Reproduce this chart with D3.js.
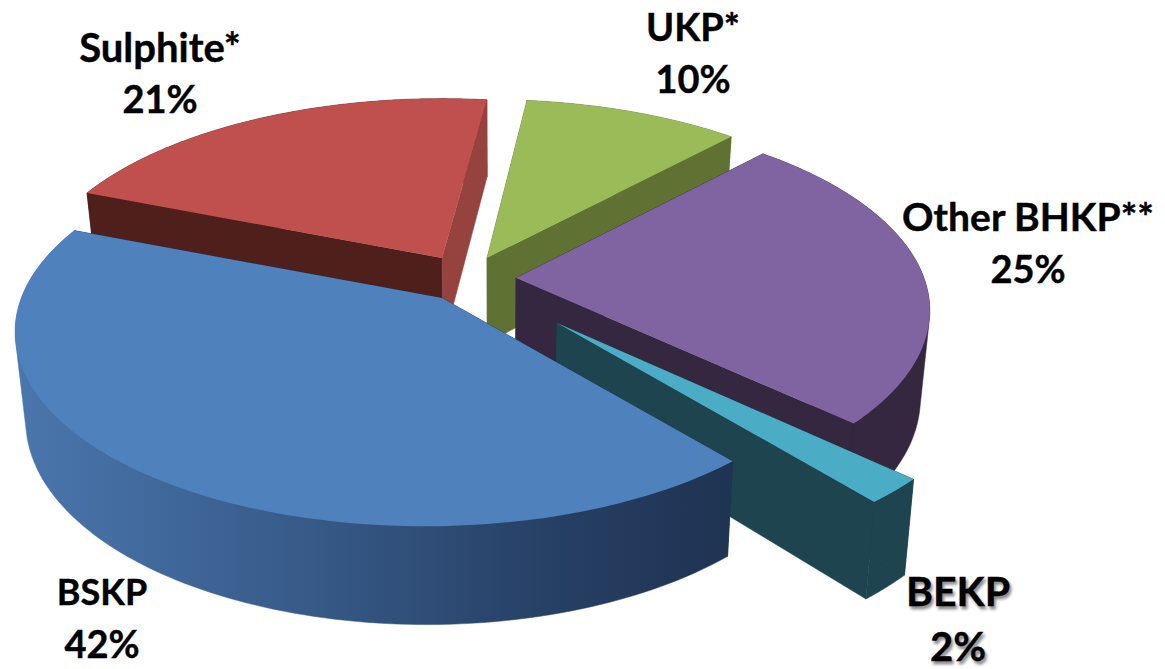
<!DOCTYPE html>
<html>
<head>
<meta charset="utf-8">
<title>Pulp grades</title>
<script src="https://cdn.jsdelivr.net/npm/d3@7"></script>
<style>
  html, body { margin: 0; padding: 0; background: #fff; }
  svg { display: block; }
  text { font-family: Lato, "Open Sans", sans-serif; font-weight: 700; fill: #000; stroke: #000; stroke-width: 0.4px; text-anchor: middle; }
</style>
</head>
<body>
<svg id="chart" width="1165" height="669"></svg>
<script>
// Pulp grade shares, listed clockwise starting from the Sulphite wedge.
const grades = ["Sulphite*", "UKP*", "Other BHKP**", "BEKP", "BSKP"];
const shares = [21, 10, 25, 2, 42];

// Drawing of each wedge: apex, radii, perspective lean, small rotation, face colours.
const wedgeStyle = {
  "Sulphite*":    { cx: 442, cy: 258, rx: 406, ry: 186, lean: 0,     turn: 0.4,  top: "#c0504d", rim: "#4f1f1c", near: "#4f1f1c", far: "#964340" },
  "UKP*":         { cx: 487, cy: 258, rx: 405, ry: 185, lean: 0,     turn: -0.4, top: "#9bbb59", rim: "#5f7233", near: "#5f7233", far: "#5f7233" },
  "Other BHKP**": { cx: 516, cy: 278, rx: 408, ry: 190, lean: 0,     turn: -0.2, top: "#8064a2", rim: "#35273f", near: "#35273f", far: "#35273f" },
  "BEKP":         { cx: 557, cy: 323, rx: 432, ry: 203, lean: 0,     turn: 0,    top: "#4bacc6", rim: "#1e4450", near: "#1e4450", far: "#1e4450" },
  "BSKP":         { cx: 442, cy: 298, rx: 406, ry: 190, lean: 0.035, turn: 0,    top: "#4f81bd", rim: "url(#blueRim)", near: "#1f3352", far: "#1f3352" }
};
const labelStyle = {
  "Sulphite*":    { x: 160,  y: 62,  gap: 51, size: 40, valueSize: 38 },
  "UKP*":         { x: 693,  y: 41,  gap: 52, size: 38, valueSize: 38 },
  "Other BHKP**": { x: 1028, y: 231, gap: 52, size: 39, valueSize: 38 },
  "BEKP":         { x: 958,  y: 606, gap: 55, size: 41, valueSize: 40, shadow: true },
  "BSKP":         { x: 102,  y: 605, gap: 53, size: 36, valueSize: 38 }
};

const depthPerspective = 0.167;
const firstAngle = (291.4 - 360) * Math.PI / 180;

const svg = d3.select("#chart");

const gradient = svg.append("defs").append("linearGradient")
  .attr("id", "blueRim")
  .attr("gradientUnits", "userSpaceOnUse")
  .attr("x1", 20).attr("x2", 735).attr("y1", 0).attr("y2", 0);
gradient.selectAll("stop")
  .data([[0, "#4a76ad"], [0.4, "#375a88"], [0.75, "#263f64"], [1, "#1f3352"]])
  .join("stop")
  .attr("offset", d => d[0])
  .attr("stop-color", d => d[1]);

const pie = d3.pie().sort(null).startAngle(firstAngle).endAngle(firstAngle + 2 * Math.PI);
const arcs = pie(shares);

// Perspective ellipse: the far side of a wedge shrinks, the near side grows.
function rimPoint(style, angle) {
  const a = angle + style.turn * Math.PI / 180;
  const u = Math.sin(a), v = Math.cos(a);
  const s = 1 / (1 + depthPerspective * v + style.lean * u);
  return [style.cx + u * style.rx * s, style.cy - v * style.ry * s];
}

// The lower plane of the disc sits further down the closer it is to the viewer.
function lower([x, y]) {
  const depth = 85 + 0.05 * (y - 260);
  return [x - 0.022 * (x - 500), y + depth];
}

const line = d3.line().curve(d3.curveLinear);
const closed = pts => line(pts) + "Z";

const wedges = svg.selectAll("g.wedge")
  .data(arcs)
  .join("g")
  .attr("class", "wedge");

wedges.each(function (d, i) {
  const style = wedgeStyle[grades[i]];
  const g = d3.select(this);
  const rim = d3.range(0, 121).map(k =>
    rimPoint(style, d.startAngle + (d.endAngle - d.startAngle) * k / 120));
  const apex = [style.cx, style.cy];
  const first = rim[0], last = rim[rim.length - 1];

  const cutFaces = [
    [[first, apex, lower(apex), lower(first)], style.near],
    [[last, apex, lower(apex), lower(last)], style.far]
  ];
  // The hull of both rim curves also fills the silhouette at the disc's sides.
  const rimFace = [d3.polygonHull(rim.concat(rim.map(lower))), style.rim];

  // BSKP shows its rim in front of the cuts; the far wedges the other way round.
  const faces = grades[i] === "BSKP" ? [...cutFaces, rimFace] : [rimFace, ...cutFaces];
  faces.forEach(([pts, fill]) => {
    g.append("path").attr("d", closed(pts)).attr("fill", fill)
      .attr("stroke", fill).attr("stroke-width", 0.5);
  });
  g.append("path").attr("d", closed([apex, ...rim])).attr("fill", style.top);
});

svg.selectAll("g.label")
  .data(grades)
  .join("g")
  .attr("class", "label")
  .each(function (name, i) {
    const spec = labelStyle[name];
    const g = d3.select(this)
      .style("text-shadow", spec.shadow ? "2px 3px 3px rgba(0,0,0,0.45)" : null);
    g.append("text").attr("x", spec.x).attr("y", spec.y)
      .style("font-size", spec.size + "px").text(name);
    g.append("text").attr("x", spec.x).attr("y", spec.y + spec.gap)
      .style("font-size", spec.valueSize + "px").text(shares[i] + "%");
  });
</script>
</body>
</html>
